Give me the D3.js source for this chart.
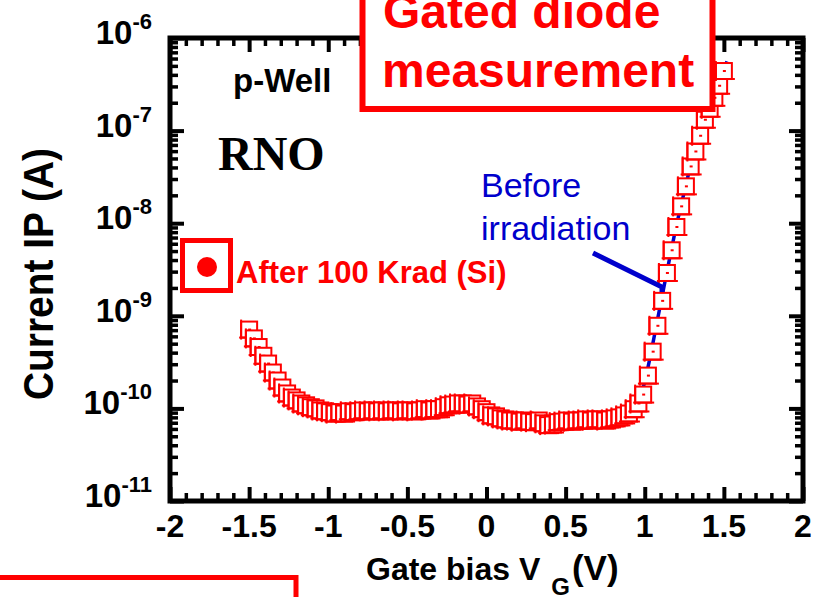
<!DOCTYPE html>
<html>
<head>
<meta charset="utf-8">
<script src="https://cdn.jsdelivr.net/npm/d3@7"></script>
<style>
  html, body { margin: 0; padding: 0; background: #fff; overflow: hidden; }
  svg { display: block; }
  text { font-family: "Liberation Sans", Arial, Helvetica, sans-serif; font-weight: bold; }
</style>
</head>
<body>
<script>
// After 100 Krad (Si)
const gateBias = [
  -1.50, -1.47, -1.44, -1.41, -1.38, -1.35, -1.32, -1.29, -1.26, -1.23,
  -1.20, -1.17, -1.14, -1.11, -1.08, -1.05, -1.02, -0.99, -0.96, -0.93,
  -0.90, -0.87, -0.84, -0.81, -0.78, -0.75, -0.72, -0.69, -0.66, -0.63,
  -0.60, -0.57, -0.54, -0.51, -0.48, -0.45, -0.42, -0.39, -0.36, -0.33,
  -0.30, -0.27, -0.24, -0.21, -0.18, -0.15, -0.12, -0.09, -0.06, -0.03,
   0.00,  0.03,  0.06,  0.09,  0.12,  0.15,  0.18,  0.21,  0.24,  0.27,
   0.30,  0.33,  0.36,  0.39,  0.42,  0.45,  0.48,  0.51,  0.54,  0.57,
   0.60,  0.63,  0.66,  0.69,  0.72,  0.75,  0.78,  0.81,  0.84,  0.87,
   0.90,  0.93,  0.96,  0.99,  1.02,  1.05,  1.08,  1.11,  1.14,  1.17,
   1.20,  1.23,  1.26,  1.29,  1.32,  1.35,  1.38,  1.41,  1.44,  1.47,
   1.50
];
const currentAfter = [
  7.1e-10, 5.7e-10, 4.6e-10, 3.7e-10, 3.05e-10, 2.44e-10, 2.0e-10, 1.68e-10, 1.45e-10, 1.31e-10,
  1.22e-10, 1.13e-10, 1.08e-10, 1.03e-10, 1.0e-10, 9.5e-11, 9.3e-11, 9.1e-11, 8.8e-11, 9.1e-11,
  8.8e-11, 9.3e-11, 9.1e-11, 9.3e-11, 9.5e-11, 9.3e-11, 9.5e-11, 9.3e-11, 9.5e-11, 9.3e-11,
  9.5e-11, 9.5e-11, 9.3e-11, 9.5e-11, 9.5e-11, 9.3e-11, 9.5e-11, 9.8e-11, 9.5e-11, 9.8e-11,
  9.8e-11, 1.03e-10, 1.08e-10, 1.1e-10, 1.13e-10, 1.13e-10, 1.1e-10, 1.13e-10, 1.05e-10, 9.8e-11,
  9.1e-11, 8.4e-11, 8.2e-11, 7.8e-11, 7.6e-11, 7.4e-11, 7.4e-11, 7.2e-11, 7.4e-11, 7.2e-11,
  7.1e-11, 7.4e-11, 6.9e-11, 6.6e-11, 6.7e-11, 7.1e-11, 7.2e-11, 7.4e-11, 7.2e-11, 7.4e-11,
  7.4e-11, 7.6e-11, 7.4e-11, 7.6e-11, 7.6e-11, 7.4e-11, 7.6e-11, 7.8e-11, 8.0e-11, 8.4e-11,
  8.8e-11, 9.8e-11, 1.13e-10, 1.41e-10, 2.26e-10, 4.1e-10, 7.8e-10, 1.45e-9, 2.9e-9, 5.1e-9,
  9.1e-9, 1.52e-8, 2.5e-8, 4.1e-8, 5.95e-8, 8.8e-8, 1.31e-7, 1.72e-7, 2.26e-7, 3.05e-7,
  4.4e-7
];

// Before irradiation (mostly hidden behind the red markers)
const beforeBias = [-1.5, -1.2, -0.9, -0.6, -0.3, 0.0, 0.3, 0.6, 0.9, 0.95, 1.0, 1.04, 1.08,
  1.12, 1.16, 1.2, 1.24, 1.28, 1.32, 1.36, 1.40, 1.44, 1.48, 1.52];
const currentBefore = [6.5e-10, 1.2e-10, 9.0e-11, 9.3e-11, 9.8e-11, 9.0e-11, 7.2e-11, 7.4e-11, 8.8e-11,
  1.1e-10, 1.9e-10, 4.0e-10, 9.0e-10, 2.0e-9, 4.4e-9, 9.5e-9, 1.85e-8, 3.6e-8, 6.3e-8,
  1.05e-7, 1.65e-7, 2.5e-7, 3.7e-7, 5.6e-7];

const xMajorTicks = [-2, -1.5, -1, -0.5, 0, 0.5, 1, 1.5, 2];
const xTickLabels = ["-2", "-1.5", "-1", "-0.5", "0", "0.5", "1", "1.5", "2"];
const yDecades = [1e-11, 1e-10, 1e-9, 1e-8, 1e-7, 1e-6];
const yExponents = ["-11", "-10", "-9", "-8", "-7", "-6"];

const RED = "#ff0000";
const BLUE = "#0000cc";

const width = 817, height = 597;
const margin = {top: 38, right: 14, bottom: 96, left: 170};

const svg = d3.select("body").append("svg")
    .attr("width", width)
    .attr("height", height);

const x = d3.scaleLinear().domain([-2, 2]).range([margin.left, width - margin.right]);
const y = d3.scaleLog().domain([1e-11, 1e-6]).range([height - margin.bottom, margin.top]);

const x0 = x.range()[0], x1 = x.range()[1];
const yBottom = y.range()[0], yTop = y.range()[1];

// minor ticks
const isMajorX = v => Math.abs(v * 2 - Math.round(v * 2)) < 1e-6;
const xMinor = x.ticks(40).filter(v => !isMajorX(v));
const yMinor = y.ticks().filter(v => !yDecades.some(d => Math.abs(d - v) / d < 1e-6));

function clean(g, w) {
    g.select(".domain").remove();
    g.selectAll("text").remove();
    g.selectAll("line").attr("stroke", "#000").attr("stroke-width", w);
}

// ticks, all pointing inwards, on all four sides
svg.append("g").attr("transform", `translate(0,${yBottom})`)
    .call(d3.axisBottom(x).tickValues(xMinor).tickSize(-8).tickSizeOuter(0).tickFormat(""))
    .call(clean, 3.5);
svg.append("g").attr("transform", `translate(0,${yBottom})`)
    .call(d3.axisBottom(x).tickValues(xMajorTicks).tickSize(-14).tickSizeOuter(0).tickFormat(""))
    .call(clean, 4);
svg.append("g").attr("transform", `translate(0,${yTop})`)
    .call(d3.axisTop(x).tickValues(xMinor).tickSize(-8).tickSizeOuter(0).tickFormat(""))
    .call(clean, 3.5);
svg.append("g").attr("transform", `translate(0,${yTop})`)
    .call(d3.axisTop(x).tickValues(xMajorTicks).tickSize(-14).tickSizeOuter(0).tickFormat(""))
    .call(clean, 4);
svg.append("g").attr("transform", `translate(${x0},0)`)
    .call(d3.axisLeft(y).tickValues(yMinor).tickSize(-8).tickSizeOuter(0).tickFormat(""))
    .call(clean, 3.5);
svg.append("g").attr("transform", `translate(${x0},0)`)
    .call(d3.axisLeft(y).tickValues(yDecades).tickSize(-14).tickSizeOuter(0).tickFormat(""))
    .call(clean, 4);
svg.append("g").attr("transform", `translate(${x1},0)`)
    .call(d3.axisRight(y).tickValues(yMinor).tickSize(-8).tickSizeOuter(0).tickFormat(""))
    .call(clean, 3.5);
svg.append("g").attr("transform", `translate(${x1},0)`)
    .call(d3.axisRight(y).tickValues(yDecades).tickSize(-14).tickSizeOuter(0).tickFormat(""))
    .call(clean, 4);

// frame
svg.append("rect")
    .attr("x", x0).attr("y", yTop)
    .attr("width", x1 - x0).attr("height", yBottom - yTop)
    .attr("fill", "none").attr("stroke", "#000").attr("stroke-width", 5);

// x tick labels
svg.append("g").selectAll("text")
    .data(xMajorTicks)
    .join("text")
    .attr("x", d => x(d))
    .attr("y", yBottom + 36)
    .attr("text-anchor", "middle")
    .style("font-size", "32px")
    .text((d, i) => xTickLabels[i]);

// y tick labels: 10 with superscript exponent
const yLab = svg.append("g").selectAll("text")
    .data(yDecades)
    .join("text")
    .attr("x", x0 - 18)
    .attr("y", d => y(d) + 6)
    .attr("text-anchor", "end");
yLab.append("tspan").style("font-size", "33px").text("10");
yLab.append("tspan").style("font-size", "22px").attr("dy", -15).text((d, i) => yExponents[i]);

// axis titles
const xt = svg.append("text")
    .attr("x", 366).attr("y", 580)
    .style("font-size", "32px");
xt.append("tspan").text("Gate bias V");
xt.append("tspan").attr("dx", 11).attr("dy", 15).style("font-size", "24px").text("G");
xt.append("tspan").attr("dx", 2).attr("dy", -15).style("font-size", "35px").text("(V)");

svg.append("text")
    .attr("transform", "translate(53,274) rotate(-90)")
    .attr("text-anchor", "middle")
    .attr("textLength", 252)
    .attr("lengthAdjust", "spacingAndGlyphs")
    .style("font-size", "42px")
    .text("Current IP (A)");

// before irradiation curve
const line = d3.line()
    .x((d, i) => x(beforeBias[i]))
    .y(d => y(d));
svg.append("path")
    .datum(currentBefore)
    .attr("d", line)
    .attr("fill", "none")
    .attr("stroke", BLUE)
    .attr("stroke-width", 3.5);

// after 100 Krad markers: open squares with error bar caps
const afterData = gateBias.map((v, i) => ({v: v, c: currentAfter[i]}));
const marks = svg.append("g").selectAll("g")
    .data(afterData)
    .join("g")
    .attr("transform", d => `translate(${x(d.v)},${y(d.c)})`);
marks.append("rect")
    .attr("x", -8).attr("y", -8).attr("width", 16).attr("height", 16)
    .attr("fill", "#fff").attr("stroke", RED).attr("stroke-width", 2);
marks.append("line")
    .attr("x1", -10).attr("x2", 11).attr("y1", 8).attr("y2", 8)
    .attr("stroke", RED).attr("stroke-width", 2);
marks.append("line")
    .attr("x1", -8).attr("x2", -8).attr("y1", -10).attr("y2", 10)
    .attr("stroke", RED).attr("stroke-width", 2);
marks.append("rect")
    .attr("x", -1).attr("y", -1).attr("width", 3).attr("height", 2)
    .attr("fill", RED);

// annotations
svg.append("text").attr("x", 233).attr("y", 92).style("font-size", "33px").text("p-Well");
svg.append("text").attr("x", 218).attr("y", 170)
    .style("font-family", '"Liberation Serif", "Times New Roman", serif')
    .style("font-size", "48px").text("RNO");

svg.append("text").attr("x", 481).attr("y", 197)
    .attr("fill", BLUE).style("font-weight", "normal").style("font-size", "34px").text("Before");
svg.append("text").attr("x", 481).attr("y", 240)
    .attr("fill", BLUE).style("font-weight", "normal").style("font-size", "34px").text("irradiation");
svg.append("path")
    .attr("d", "M593,253 L662,287 L662,292")
    .attr("fill", "none").attr("stroke", BLUE).attr("stroke-width", 5);

// legend
svg.append("rect")
    .attr("x", 182.5).attr("y", 240.5).attr("width", 48).attr("height", 50)
    .attr("fill", "#fff").attr("stroke", RED).attr("stroke-width", 5);
svg.append("circle").attr("cx", 207).attr("cy", 267).attr("r", 10).attr("fill", RED);
svg.append("text").attr("x", 236).attr("y", 283)
    .attr("fill", RED).style("font-size", "31px").text("After 100 Krad (Si)");

// title box
svg.append("rect")
    .attr("x", 362.5).attr("y", -10).attr("width", 350).attr("height", 119)
    .attr("fill", "#fff").attr("stroke", RED).attr("stroke-width", 6);
svg.append("text").attr("x", 383).attr("y", 28)
    .attr("fill", RED).style("font-size", "48px").text("Gated diode");
svg.append("text").attr("x", 382).attr("y", 87)
    .attr("fill", RED).style("font-size", "48px").text("measurement");

// box at the lower left
svg.append("path")
    .attr("d", "M-5,577.5 H296 V610")
    .attr("fill", "none").attr("stroke", RED).attr("stroke-width", 5);
</script>
</body>
</html>
